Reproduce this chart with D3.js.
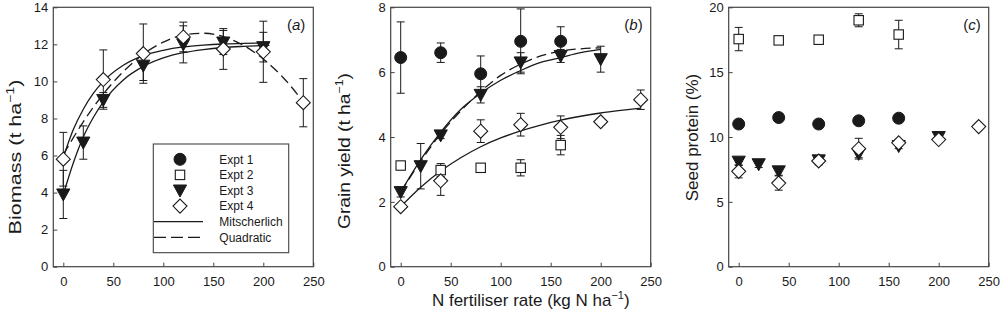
<!DOCTYPE html>
<html lang="en">
<head>
  <meta charset="UTF-8">
  <title>Biomass, grain yield and seed protein vs N fertiliser rate</title>
  <script src="https://d3js.org/d3.v7.min.js"></script>
  <style>
    body, html {
      margin: 0;
      padding: 0;
      background: #fff;
    }
    svg {
      display: block;
      font-family: "Liberation Sans", Arial, sans-serif;
    }
    .tick-label {
      font-size: 13px;
      fill: #1a1a1a;
    }
    .axis-title {
      font-size: 17px;
      fill: #1a1a1a;
    }
    .legend text {
      font-size: 12px;
      fill: #1a1a1a;
    }
  </style>
</head>
<body>
  <svg width="1000" height="313"></svg>

  <script>
    // x positions (kg N/ha)
    const xTicks = [0, 50, 100, 150, 200, 250];

    // (a) Biomass, t/ha
    const bioE3X = [0, 20, 40, 80, 120, 160, 200];
    const bioE3Y = [3.9, 6.7, 9.0, 10.85, 12.0, 12.1, 11.85];
    const bioE3Err = [1.3, 0.9, 0.4, 0.8, 1.0, 0.65, 0.8];
    const bioE4X = [0, 40, 80, 120, 160, 200, 240];
    const bioE4Y = [5.8, 10.1, 11.5, 12.4, 11.75, 11.6, 8.85];
    const bioE4Err = [1.45, 1.6, 1.6, 0.8, 1.1, 1.65, 1.3];
    // fitted curves
    const bioCurveX = [0, 10, 20, 30, 40, 60, 80, 100, 120, 140, 160, 180, 206];
    const bioMitE4 = [5.9, 7.4, 8.5, 9.35, 10.0, 10.87, 11.39, 11.68, 11.86, 11.96, 12.02, 12.05, 12.08];
    const bioMitE3 = [3.9, 5.6, 7.0, 8.05, 8.9, 10.08, 10.81, 11.27, 11.55, 11.72, 11.83, 11.89, 11.94];
    const bioQuadX = [0, 20, 40, 60, 80, 100, 120, 140, 160, 180, 200, 220, 240];
    const bioQuad = [6.05, 7.82, 9.32, 10.53, 11.47, 12.12, 12.5, 12.6, 12.42, 11.95, 11.21, 10.2, 8.9];
    const bioYTicks = [0, 2, 4, 6, 8, 10, 12, 14];

    // (b) Grain yield, t/ha
    const grE1X = [0, 40, 80, 120, 160];
    const grE1Y = [6.45, 6.6, 5.95, 6.95, 6.95];
    const grE1Err = [1.1, 0.3, 0.55, 1.0, 0.45];
    const grE2X = [0, 40, 80, 120, 160];
    const grE2Y = [3.12, 2.98, 3.05, 3.05, 3.75];
    const grE2Err = [0, 0.2, 0.12, 0.25, 0.3];
    const grE3X = [0, 20, 40, 80, 120, 160, 200];
    const grE3Y = [2.3, 3.1, 4.05, 5.3, 6.3, 6.5, 6.4];
    const grE3Err = [0.15, 0.7, 0.1, 0.25, 0.3, 0.2, 0.4];
    const grE4X = [0, 40, 80, 120, 160, 200, 240];
    const grE4Y = [1.85, 2.65, 4.18, 4.38, 4.3, 4.47, 5.15];
    const grE4Err = [0.08, 0.45, 0.35, 0.35, 0.35, 0, 0.3];
    const grCurveX = [0, 20, 40, 60, 80, 100, 120, 140, 160, 180, 200];
    const grMitE3 = [2.3, 3.3, 4.15, 4.85, 5.35, 5.75, 6.05, 6.3, 6.45, 6.6, 6.7];
    const grQuadE3 = [2.3, 3.25, 4.1, 4.8, 5.4, 5.9, 6.25, 6.5, 6.65, 6.72, 6.75];
    const grCurveX4 = [0, 20, 40, 60, 80, 100, 120, 140, 160, 180, 200, 220, 240];
    const grMitE4 = [1.85, 2.45, 2.95, 3.36, 3.7, 3.97, 4.19, 4.37, 4.52, 4.64, 4.74, 4.82, 4.89];
    const grYTicks = [0, 2, 4, 6, 8];

    // (c) Seed protein, %
    const prE1X = [0, 40, 80, 120, 160];
    const prE1Y = [11.0, 11.5, 11.0, 11.25, 11.45];
    const prE1Err = [0, 0, 0, 0, 0];
    const prE2X = [0, 40, 80, 120, 160];
    const prE2Y = [17.55, 17.45, 17.5, 19.0, 17.9];
    const prE2Err = [0.9, 0.1, 0.3, 0.5, 1.1];
    const prE3X = [0, 20, 40, 80, 120, 160, 200];
    const prE3Y = [8.1, 7.9, 7.35, 8.2, 8.7, 9.3, 10.0];
    const prE3Err = [0.3, 0.25, 0.3, 0.2, 0.3, 0.2, 0.2];
    const prE4X = [0, 40, 80, 120, 160, 200, 240];
    const prE4Y = [7.35, 6.45, 8.15, 9.1, 9.55, 9.8, 10.8];
    const prE4Err = [0.5, 0.55, 0.3, 0.8, 0.2, 0.2, 0];
    const prYTicks = [0, 5, 10, 15, 20];

    const legendLabels = ["Expt 1", "Expt 2", "Expt 3", "Expt 4", "Mitscherlich", "Quadratic"];

    const svg = d3.select("svg");
    const plotTop = 7.3, plotBottom = 266.7, plotW = 260;
    const ink = "#1a1a1a";

    // marker drawing
    function marker(g, kind, x, y) {
      if (kind === "circle") {
        g.append("circle").attr("cx", x).attr("cy", y).attr("r", 6)
          .attr("fill", ink).attr("stroke", ink);
      } else if (kind === "square") {
        g.append("rect").attr("x", x - 4.7).attr("y", y - 4.7)
          .attr("width", 9.4).attr("height", 9.4)
          .attr("fill", "#fff").attr("stroke", ink).attr("stroke-width", 1.1);
      } else if (kind === "tri") {
        g.append("path")
          .attr("d", `M${x - 6.6},${y - 5.5}L${x + 6.6},${y - 5.5}L${x},${y + 6.5}Z`)
          .attr("fill", ink).attr("stroke", ink).attr("stroke-width", 1);
      } else if (kind === "diamond") {
        g.append("path")
          .attr("d", `M${x},${y - 7}L${x + 7},${y}L${x},${y + 7}L${x - 7},${y}Z`)
          .attr("fill", "#fff").attr("stroke", ink).attr("stroke-width", 1.1);
      }
    }

    function makePanel(opt) {
      const left = opt.left;
      const x = d3.scaleLinear().domain([-10, 250]).range([left, left + plotW]);
      const y = d3.scaleLinear().domain([0, opt.yMax]).range([plotBottom, plotTop]);
      const g = svg.append("g");

      // frame
      g.append("rect")
        .attr("x", left).attr("y", plotTop)
        .attr("width", plotW).attr("height", plotBottom - plotTop)
        .attr("fill", "none").attr("stroke", "#444").attr("stroke-width", 1.2);

      // inward ticks
      const xAxis = d3.axisBottom(x).tickValues(xTicks).tickSizeInner(-4).tickSizeOuter(0).tickPadding(10);
      const xg = g.append("g").attr("transform", `translate(0,${plotBottom})`).call(xAxis);
      xg.select(".domain").remove();
      xg.selectAll("line").attr("stroke", "#444");
      xg.selectAll("text").attr("class", "tick-label").attr("font-family", null).attr("font-size", null)
        .attr("fill", ink);

      const yAxis = d3.axisLeft(y).tickValues(opt.yTicks).tickSizeInner(-4).tickSizeOuter(0).tickPadding(5);
      const yg = g.append("g").attr("transform", `translate(${left},0)`).call(yAxis);
      yg.select(".domain").remove();
      yg.selectAll("line").attr("stroke", "#444");
      yg.selectAll("text").attr("class", "tick-label").attr("font-family", null).attr("font-size", null)
        .attr("fill", ink);

      // curves
      const line = d3.line().x(d => x(d[0])).y(d => y(d[1])).curve(d3.curveMonotoneX);
      (opt.curves || []).forEach(c => {
        g.append("path")
          .datum(d3.zip(c.x, c.y))
          .attr("d", line)
          .attr("fill", "none").attr("stroke", ink).attr("stroke-width", 1.3)
          .attr("stroke-dasharray", c.dash ? "10,5" : null);
      });

      // error bars then markers
      opt.series.forEach(s => {
        s.x.forEach((xv, i) => {
          const e = s.err[i];
          if (!e) return;
          const px = x(xv), y0 = y(s.y[i] - e), y1 = y(s.y[i] + e);
          g.append("line").attr("x1", px).attr("x2", px).attr("y1", y0).attr("y2", y1)
            .attr("stroke", ink).attr("stroke-width", 1);
          [y0, y1].forEach(yy => g.append("line")
            .attr("x1", px - 4).attr("x2", px + 4).attr("y1", yy).attr("y2", yy)
            .attr("stroke", ink).attr("stroke-width", 1));
        });
      });
      opt.series.forEach(s => {
        s.x.forEach((xv, i) => marker(g, s.kind, x(xv), y(s.y[i])));
      });

      // panel letter
      const lab = g.append("text").attr("x", left + plotW - 8).attr("y", 30)
        .attr("text-anchor", "end").attr("font-size", 15).attr("fill", ink);
      lab.append("tspan").text("(");
      lab.append("tspan").attr("font-style", "italic").text(opt.letter);
      lab.append("tspan").text(")");

      // y title
      const yt = g.append("text").attr("class", "axis-title")
        .attr("transform", `translate(${opt.yTitleX},${opt.yTitleY}) rotate(-90)`)
        .attr("text-anchor", "middle").attr("dy", "0.35em");
      if (opt.yTitleLen) {
        yt.attr("textLength", opt.yTitleLen).attr("lengthAdjust", "spacingAndGlyphs");
      }
      yt.append("tspan").text(opt.yTitle);
      if (opt.unit) {
        yt.append("tspan").attr("font-size", 11).attr("dy", "-0.6em").text("\u22121");
        yt.append("tspan").attr("dy", "0.4em").text(")");
      }
      return { x, y, g };
    }

    const pa = makePanel({
      left: 53.3, yMax: 14, yTicks: bioYTicks, letter: "a",
      yTitle: "Biomass (t ha", unit: true, yTitleX: 15, yTitleY: 157, yTitleLen: 155,
      curves: [
        { x: bioCurveX, y: bioMitE4 },
        { x: bioCurveX, y: bioMitE3 },
        { x: bioQuadX, y: bioQuad, dash: true }
      ],
      series: [
        { kind: "tri", x: bioE3X, y: bioE3Y, err: bioE3Err },
        { kind: "diamond", x: bioE4X, y: bioE4Y, err: bioE4Err }
      ]
    });

    makePanel({
      left: 390.7, yMax: 8, yTicks: grYTicks, letter: "b",
      yTitle: "Grain yield (t ha", unit: true, yTitleX: 344, yTitleY: 151, yTitleLen: 156,
      curves: [
        { x: grCurveX, y: grMitE3 },
        { x: grCurveX, y: grQuadE3, dash: true },
        { x: grCurveX4, y: grMitE4 }
      ],
      series: [
        { kind: "square", x: grE2X, y: grE2Y, err: grE2Err },
        { kind: "circle", x: grE1X, y: grE1Y, err: grE1Err },
        { kind: "diamond", x: grE4X, y: grE4Y, err: grE4Err },
        { kind: "tri", x: grE3X, y: grE3Y, err: grE3Err }
      ]
    });

    makePanel({
      left: 728.7, yMax: 20, yTicks: prYTicks, letter: "c",
      yTitle: "Seed protein (%)", unit: false, yTitleX: 691.7, yTitleY: 137.5,
      series: [
        { kind: "square", x: prE2X, y: prE2Y, err: prE2Err },
        { kind: "circle", x: prE1X, y: prE1Y, err: prE1Err },
        { kind: "tri", x: prE3X, y: prE3Y, err: prE3Err },
        { kind: "diamond", x: prE4X, y: prE4Y, err: prE4Err }
      ]
    });

    // shared x title under panel (b)
    const xt = svg.append("text").attr("class", "axis-title")
      .attr("x", 530.8).attr("y", 306).attr("text-anchor", "middle");
    xt.append("tspan").text("N fertiliser rate (kg N ha");
    xt.append("tspan").attr("font-size", 11).attr("dy", "-0.6em").text("\u22121");
    xt.append("tspan").attr("dy", "0.4em").text(")");

    // legend in panel (a)
    const legend = pa.g.append("g").attr("class", "legend");
    legend.append("rect")
      .attr("x", 153.3).attr("y", 144).attr("width", 135.4).attr("height", 108.7)
      .attr("fill", "#fff").attr("stroke", "#444").attr("stroke-width", 1.1);
    const kinds = ["circle", "square", "tri", "diamond", "solid", "dash"];
    legendLabels.forEach((label, i) => {
      const ly = 159.3 + i * 15.6;
      const k = kinds[i];
      if (k === "solid" || k === "dash") {
        legend.append("line").attr("x1", 154).attr("x2", 203).attr("y1", ly).attr("y2", ly)
          .attr("stroke", ink).attr("stroke-width", 1.3)
          .attr("stroke-dasharray", k === "dash" ? "12,5" : null);
      } else {
        marker(legend, k, 180, ly);
      }
      legend.append("text").attr("x", 219.3).attr("y", ly).attr("dy", "0.35em").text(label);
    });
  </script>
</body>
</html>
